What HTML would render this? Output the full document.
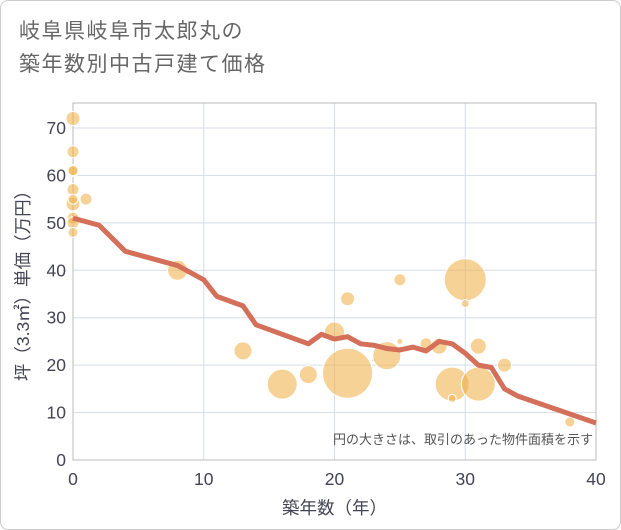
<!DOCTYPE html>
<html><head><meta charset="utf-8"><style>
body{margin:0;background:#fff;font-family:"Liberation Sans","Noto Sans CJK JP",sans-serif}
#wrap{position:relative;width:619px;height:528px;border:1px solid #ccc;border-radius:8px;overflow:hidden}
.title{position:absolute;left:18px;top:14px;font-size:21px;line-height:33px;color:#666;letter-spacing:1.5px}
</style></head><body>
<div id="wrap">
<div class="title">岐阜県岐阜市太郎丸の<br>築年数別中古戸建て価格</div>
<svg id="svg" width="621" height="530" style="position:absolute;left:-1px;top:-1px"></svg>
</div>
<script>
const xTicks=[0,10,20,30,40];
const yTicks=[0,10,20,30,40,50,60,70];
const bubbleX=[0,0,0,0,0,0,0,1,0,0,0,8,13,16,18,20,21,21,23,24,25,25,27,28,29,29,30,30,31,31,33,38];
const bubbleY=[72,65,61,61,57,54,55,55,51,50,48,40,23,16,18,27,34,18.3,21,22,38,25,24.5,24,16,13,38,33,16,24,20,8];
const bubbleR=[7,6,6,5,6,7,5,6,6,6,5,10,9,15,9,10,7,25,2,14,6,3,6,8,17,4,21,4,17,8,7,5];
const lineX=[0,2,4,6,8,10,11,13,14,18,19,20,21,22,23,24,25,26,27,28,29,30,31,32,33,34,40];
const lineY=[51,49.5,44,42.5,41,38,34.5,32.5,28.5,24.5,26.5,25.5,26,24.5,24.2,23.5,23.2,23.8,23,25,24.5,22.5,20,19.5,15,13.5,7.8];
const L=73,R=596,T=103,B=460;
const sx=v=>L+(v/40)*(R-L);
const sy=v=>B-(v/70)*(B-128);
const svg=document.getElementById('svg');
const NS='http://www.w3.org/2000/svg';
function mk(t,a){const e=document.createElementNS(NS,t);for(const k in a)e.setAttribute(k,a[k]);svg.appendChild(e);return e;}
yTicks.forEach(v=>{const g=mk('line',{x1:L,x2:R,y1:sy(v),y2:sy(v),stroke:'#d5dde8','stroke-width':1});

const t=mk('text',{x:L-7,y:sy(v)+6,'text-anchor':'end','font-size':17.5,fill:'#445'});t.textContent=v;
});
xTicks.forEach(v=>{const g=mk('line',{x1:sx(v),x2:sx(v),y1:T,y2:B,stroke:'#d5dde8','stroke-width':1});

const t=mk('text',{x:sx(v),y:B+25,'text-anchor':'middle','font-size':17.5,fill:'#445'});t.textContent=v;
});
const fr=mk('rect',{x:L,y:T,width:R-L,height:B-T,fill:'none',stroke:'#bbb'});

bubbleX.forEach((x,i)=>{const c=mk('circle',{cx:sx(x),cy:sy(bubbleY[i]),r:bubbleR[i],fill:'rgba(240,180,80,0.6)',stroke:'#fff','stroke-width':1});
});
const p=mk('polyline',{points:lineX.map((x,i)=>sx(x)+','+sy(lineY[i])).join(' '),fill:'none',stroke:'#d4705a','stroke-width':5,'stroke-linejoin':'round'});

const n=mk('text',{x:R-3,y:444,'text-anchor':'end','font-size':13,fill:'#555'});n.textContent='円の大きさは、取引のあった物件面積を示す';

const xl=mk('text',{x:(L+R)/2,y:514,'text-anchor':'middle','font-size':17.5,fill:'#445'});xl.textContent='築年数（年）';

const yl=mk('text',{x:0,y:0,'text-anchor':'middle','font-size':17.5,fill:'#445',transform:`translate(29,${(T+B)/2}) rotate(-90)`});yl.textContent='坪（3.3㎡）単価（万円）';

</script>
</body></html>
